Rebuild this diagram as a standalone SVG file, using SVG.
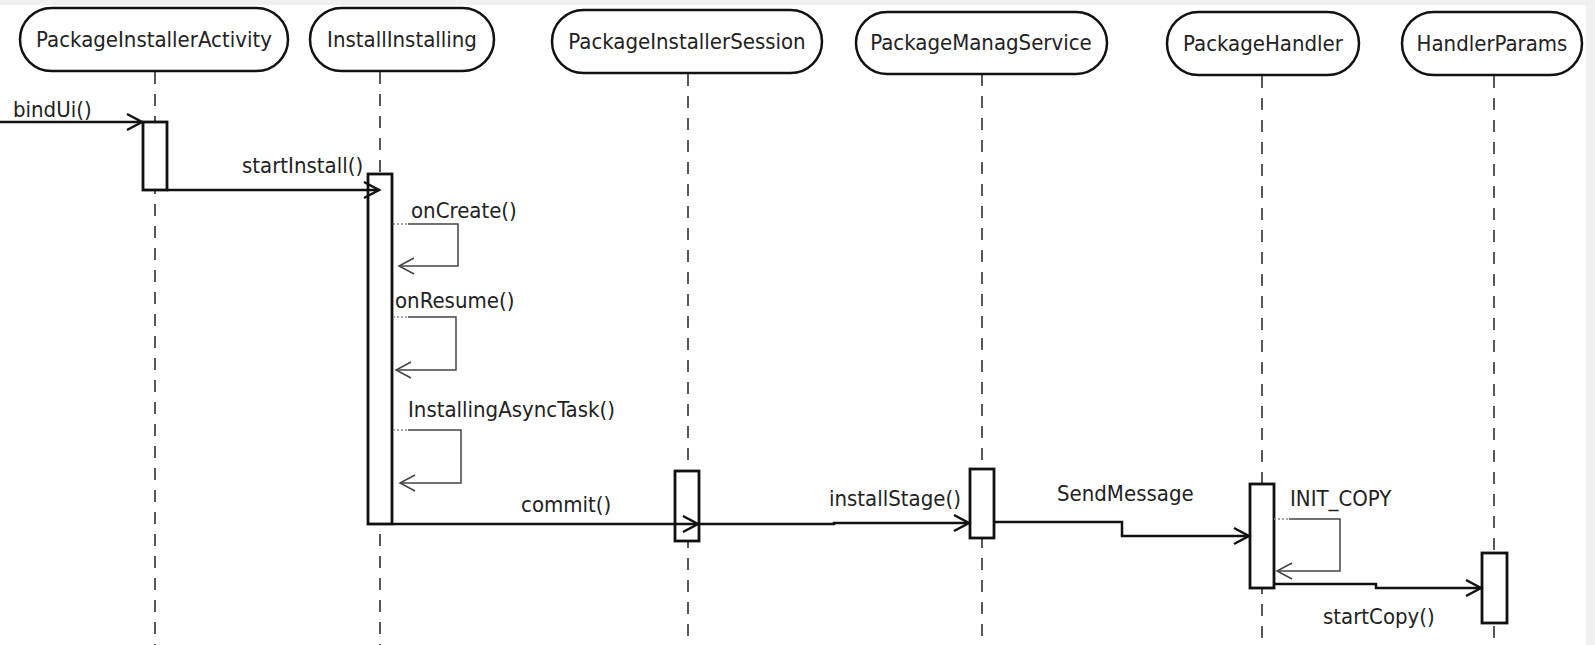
<svg xmlns="http://www.w3.org/2000/svg" width="1595" height="645" viewBox="0 0 1595 645">
<style>
.bg{fill:#ffffff}
.band{fill:#f0f0f0}
.actor{fill:#ffffff;stroke:#111;stroke-width:2.5}
.life{stroke:#222;stroke-width:1.5;stroke-dasharray:12 10;fill:none}
.act{fill:#ffffff;stroke:#111;stroke-width:2.8}
.msg{fill:none;stroke:#111;stroke-width:2.5}
.self{fill:none;stroke:#444;stroke-width:1.5}
.dot{fill:none;stroke:#888;stroke-width:1.5;stroke-dasharray:2 2}
text{font-family:"DejaVu Sans Condensed","DejaVu Sans",sans-serif;font-size:22px;fill:#222}
.lbl{text-anchor:middle}
</style>
<defs>
<marker id="arr" markerUnits="userSpaceOnUse" markerWidth="20" markerHeight="20" viewBox="-16 -10 18 20" refX="0" refY="0" orient="auto">
<path d="M -15 -8 L 0 0 L -15 8" fill="none" stroke="#111" stroke-width="2.5"/>
</marker>
<marker id="arrs" markerUnits="userSpaceOnUse" markerWidth="20" markerHeight="20" viewBox="-16 -10 18 20" refX="0" refY="0" orient="auto">
<path d="M -15 -8 L 0 0 L -15 8" fill="none" stroke="#444" stroke-width="1.5"/>
</marker>
</defs>
<rect class="bg" x="0" y="0" width="1595" height="645"/>
<rect class="band" x="0" y="0" width="1595" height="5"/>
<rect class="band" x="1586" y="0" width="9" height="645"/>

<g id="lifelines">
<line class="life" x1="155" y1="72" x2="155" y2="645"/>
<line class="life" x1="380" y1="72" x2="380" y2="645"/>
<line class="life" x1="688" y1="74" x2="688" y2="645"/>
<line class="life" x1="982" y1="74" x2="982" y2="645"/>
<line class="life" x1="1262" y1="76" x2="1262" y2="645"/>
<line class="life" x1="1494" y1="76" x2="1494" y2="645"/>
</g>

<g id="PackageInstallerActivity">
<rect class="actor" x="20" y="8" width="268" height="63" rx="31.5"/>
<text class="lbl" x="154" y="47">PackageInstallerActivity</text>
<rect class="act" x="143" y="122" width="24" height="68"/>
</g>
<g id="InstallInstalling">
<rect class="actor" x="310" y="8" width="184" height="63" rx="31.5"/>
<text class="lbl" x="402" y="47">InstallInstalling</text>
<rect class="act" x="368" y="174" width="24" height="350"/>
</g>
<g id="PackageInstallerSession">
<rect class="actor" x="552" y="10" width="270" height="63" rx="31.5"/>
<text class="lbl" x="687" y="49">PackageInstallerSession</text>
<rect class="act" x="675" y="471" width="24" height="70"/>
</g>
<g id="PackageManagService">
<rect class="actor" x="856" y="12" width="251" height="62" rx="31"/>
<text class="lbl" x="981" y="50">PackageManagService</text>
<rect class="act" x="970" y="469" width="24" height="69"/>
</g>
<g id="PackageHandler">
<rect class="actor" x="1167" y="12" width="192" height="63" rx="31.5"/>
<text class="lbl" x="1263" y="51">PackageHandler</text>
<rect class="act" x="1250" y="484" width="24" height="104"/>
</g>
<g id="HandlerParams">
<rect class="actor" x="1402" y="12" width="180" height="63" rx="31.5"/>
<text class="lbl" x="1492" y="51">HandlerParams</text>
<rect class="act" x="1482" y="553" width="25" height="70"/>
</g>

<g id="connectors">
<path class="msg" d="M 0 122 L 142 122" marker-end="url(#arr)"/>
<path class="msg" d="M 167 190 L 379 190" marker-end="url(#arr)"/>
<path class="dot" d="M 393 224 L 408 224"/>
<path class="self" d="M 408 224 L 458 224 L 458 266 L 399 266" marker-end="url(#arrs)"/>
<path class="dot" d="M 393 317 L 408 317"/>
<path class="self" d="M 408 317 L 456 317 L 456 370 L 396 370" marker-end="url(#arrs)"/>
<path class="dot" d="M 393 430 L 408 430"/>
<path class="self" d="M 408 430 L 461 430 L 461 483 L 400 483" marker-end="url(#arrs)"/>
<path class="msg" d="M 393 524 L 698 524" marker-end="url(#arr)"/>
<path class="msg" d="M 699 524 L 834 524 L 834 523 L 969 523" marker-end="url(#arr)"/>
<path class="msg" d="M 994 522 L 1122 522 L 1122 536 L 1249 536" marker-end="url(#arr)"/>
<path class="dot" d="M 1274 519 L 1289 519"/>
<path class="self" d="M 1289 519 L 1340 519 L 1340 571 L 1277 571" marker-end="url(#arrs)"/>
<path class="msg" d="M 1274 584 L 1376 584 L 1376 588 L 1481 588" marker-end="url(#arr)"/>
</g>

<g id="labels">
<text x="13" y="117">bindUi()</text>
<text x="242" y="173">startInstall()</text>
<text x="411" y="218">onCreate()</text>
<text x="395" y="308">onResume()</text>
<text x="408" y="417">InstallingAsyncTask()</text>
<text x="521" y="512">commit()</text>
<text x="829" y="506">installStage()</text>
<text x="1057" y="501">SendMessage</text>
<text x="1290" y="506">INIT_COPY</text>
<text x="1323" y="624">startCopy()</text>
</g>
</svg>
